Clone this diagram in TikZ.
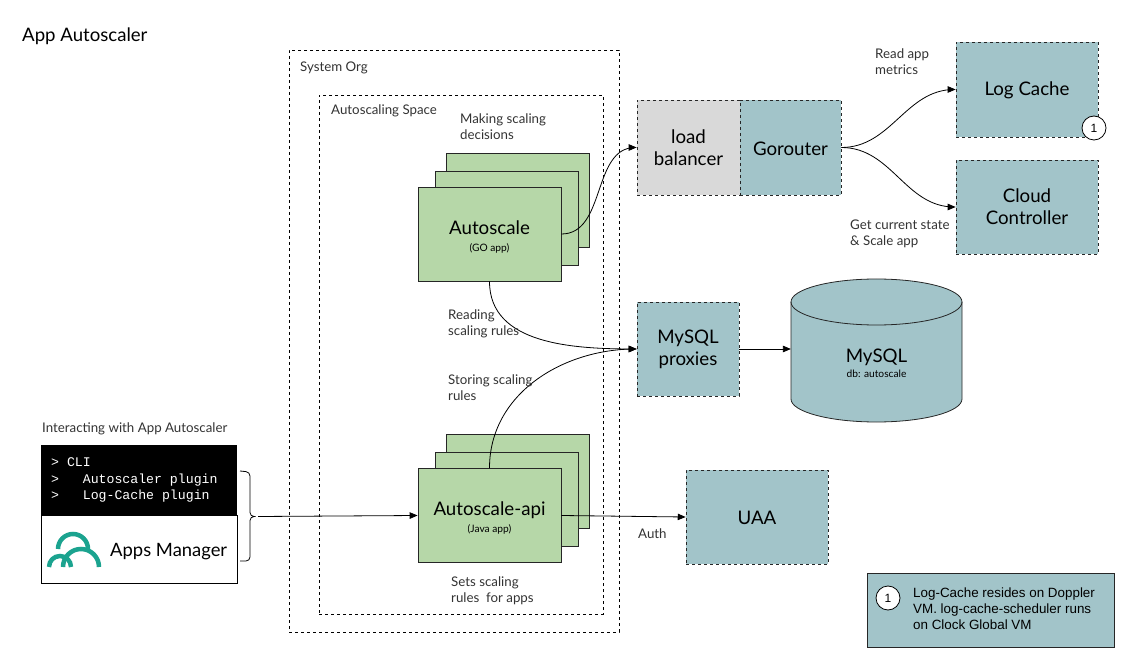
\documentclass[tikz,border=0pt]{standalone}
\usepackage{fontspec}
\setmainfont{Lato}
\setmonofont{Liberation Mono}
\newfontfamily\legendfont{Liberation Sans}
\usepackage{xcolor}
\usepackage{tikz}
\usetikzlibrary{positioning,calc,arrows,shapes,shapes.geometric}
\definecolor{appgreen}{HTML}{B6D7A8}
\definecolor{infrablue}{HTML}{A2C4C9}
\definecolor{lbgrey}{HTML}{D9D9D9}
\definecolor{pivotal}{HTML}{1BA38F}
\newcommand{\bigtxt}{\fontsize{18.7}{22}\selectfont}
\newcommand{\smalltxt}{\fontsize{13.3}{16}\selectfont}
\newcommand{\tinytxt}{\fontsize{10.2}{12}\selectfont}
\newcommand{\apptxt}[2]{\rule{0pt}{19pt}#1\\[-5pt]\tinytxt #2}
\tikzset{
  appbox/.style={draw=black!85, fill=appgreen, line width=0.9pt, minimum width=143pt, minimum height=94pt, align=center, inner sep=0pt, font=\bigtxt},
  infrabox/.style={draw=black!85, fill=infrablue, dashed, line width=0.8pt, align=center, inner sep=0pt, font=\bigtxt, execute at begin node={\rule{0pt}{16pt}}},
  zone/.style={draw=black, dashed, line width=0.8pt, inner sep=0pt},
  label/.style={align=left, anchor=north west, inner sep=0pt, text=black!80, font=\smalltxt},
  badge/.style={circle, draw=black, fill=white, line width=0.8pt, minimum size=24pt, inner sep=0pt, font=\legendfont\fontsize{12}{14}\selectfont},
  logoarc/.style={pivotal, line width=4.5pt},
  link/.style={->, line width=0.8pt}
}
\begin{document}
\begin{tikzpicture}[>=triangle 45, x=1pt, y=-1pt]
  \useasboundingbox (0,0) rectangle (1125,660);
  \node[anchor=west, inner sep=0pt, font=\fontsize{18.6}{22}\selectfont] (title) at (22,36) {App Autoscaler};

  % org and space
  \node[zone, minimum width=330pt, minimum height=582pt] (org) at (454,341) {};
  \node[zone, minimum width=284pt, minimum height=519pt] (space) at (461,354.5) {};
  \node[label] (orgtxt) at (300,62) {System Org};
  \node[label] (spacetxt) at (331,105) {Autoscaling Space};

  % app stacks
  \node[appbox] (autoscale3) at (517.5,200) {};
  \node[appbox] (autoscale2) at (506.5,218) {};
  \node[appbox] (autoscale) at (489.5,234) {\apptxt{Autoscale}{(GO app)}};
  \node[appbox] (api3) at (517.5,481) {};
  \node[appbox] (api2) at (506.5,499.5) {};
  \node[appbox] (api) at (489.5,515.5) {\apptxt{Autoscale-api}{(Java app)}};

  % platform parts
  \node[infrabox, fill=lbgrey, minimum width=103pt, minimum height=95pt] (lb) at (688.5,147.5) {load\\balancer};
  \node[infrabox, minimum width=101pt, minimum height=95pt] (gorouter) at (790.5,147.5) {Gorouter};
  \node[infrabox, minimum width=142pt, minimum height=95pt] (logcache) at (1027,89.5) {Log Cache};
  \node[infrabox, minimum width=142pt, minimum height=94pt] (cloud) at (1027,207) {Cloud\\Controller};
  \node[infrabox, minimum width=102pt, minimum height=94pt] (proxies) at (688,349) {MySQL\\proxies};
  \node[infrabox, minimum width=142pt, minimum height=94pt] (uaa) at (757,517) {UAA};

  % database
  \draw[draw=black!85, fill=infrablue, line width=0.8pt] (791,302) arc[start angle=180, end angle=0, x radius=85.5pt, y radius=23pt]
    -- (962,399) arc[start angle=0, end angle=-180, x radius=85.5pt, y radius=23pt] -- cycle;
  \draw[draw=black!85, line width=0.8pt] (791,302) arc[start angle=180, end angle=360, x radius=85.5pt, y radius=23pt];
  \node[align=center, inner sep=0pt, minimum width=171pt, font=\bigtxt] (mysql) at (876.5,363) {MySQL\\[-7pt]\tinytxt db: autoscale};
  \node[badge] (note) at (1094,128) {1};

  % client box
  \node[fill=black, minimum width=196pt, minimum height=70pt, inner sep=0pt] (cli) at (139,480) {};
  \node[draw=black, fill=white, line width=0.8pt, minimum width=196pt, minimum height=68pt, inner sep=0pt] (manager) at (139,549) {};
  \node[anchor=west, text=white, align=left, inner sep=0pt, font=\ttfamily\fontsize{13.2}{16.3}\selectfont] (clitxt) at (51,480) {>\ CLI\\>\ \ \ Autoscaler plugin\\>\ \ \ Log-Cache plugin};
  \node[anchor=west, inner sep=0pt, font=\fontsize{18.4}{22}\selectfont] (managertxt) at (110,551.5) {Apps Manager};
  \draw[logoarc] (58,549) arc[start angle=180, end angle=0, radius=15pt];
  \draw[logoarc] (49,567) arc[start angle=180, end angle=0, radius=11pt];
  \draw[logoarc] (63,567) arc[start angle=180, end angle=0, radius=18pt];
  \coordinate (bracetip) at (258,516.5);
  \draw[line width=0.8pt, rounded corners=4pt] (240,471) -- (250,472) -- (250,516.5) -- (bracetip) -- (250,516.5) -- (250,561) -- (240,561);

  % connectors
  \path[link] (autoscale.east) edge[out=0, in=180] (lb.west)
    (gorouter.east) edge[out=0, in=180] (logcache.west)
    (gorouter.east) edge[out=0, in=180] (cloud.west)
    (autoscale.south) edge[out=-90, in=180] (proxies.west)
    (api.north) edge[out=90, in=180] (proxies.west)
    (proxies.east) edge (proxies.east -| mysql.west)
    (api.east) edge (uaa.west)
    (bracetip) edge (api.west);

  % labels
  \node[label] (t1) at (460,113.5) {Making scaling\\decisions};
  \node[label] (t2) at (875,48.5) {Read app\\metrics};
  \node[label] (t3) at (850,219.5) {Get current state\\\& Scale app};
  \node[label] (t4) at (448,309.5) {Reading\\scaling rules};
  \node[label] (t5) at (448,374.5) {Storing scaling\\rules};
  \node[label] (t6) at (451,576.5) {Sets scaling\\rules\ \ for apps};
  \node[label] (t7) at (638,529) {Auth};
  \node[label] (t8) at (42,423) {Interacting with App Autoscaler};

  % legend
  \node[draw=black!85, fill=infrablue, line width=0.8pt, minimum width=247pt, minimum height=74pt] (legend) at (990.5,610) {};
  \node[badge] (legendnote) at (888,598) {1};
  \node[anchor=north west, align=left, inner sep=0pt, font=\legendfont\fontsize{13.4}{16}\selectfont] (legendtxt) at (913,588) {Log-Cache resides on Doppler\\VM. log-cache-scheduler runs\\on Clock Global VM};
\end{tikzpicture}
\end{document}
